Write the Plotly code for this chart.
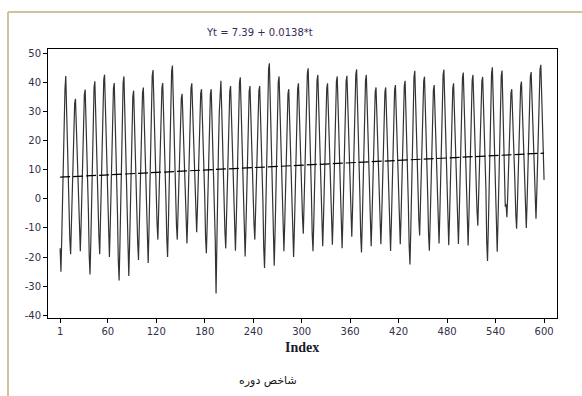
import plotly.graph_objects as go

# Monthly series values (50 cycles x 12 points)
values = [
    -17.0, -25.0, -13.6, 1.8, 16.6, 30.0, 37.5, 42.1, 31.4, 16.6, 3.2, -8.2,
    -13.7, -19.0, -9.9, 2.3, 14.0, 24.7, 32.7, 34.3, 25.8, 14.0, 3.4, -5.7,
    -12.5, -18.0, -8.6, 4.2, 16.4, 27.5, 35.8, 37.5, 28.6, 16.4, 5.3, -4.1,
    -19.4, -26.0, -14.7, 0.5, 15.1, 28.4, 38.3, 40.3, 29.7, 15.1, 1.8, -9.4,
    -12.8, -19.0, -8.5, 5.6, 19.2, 31.5, 40.8, 42.6, 32.7, 19.2, 6.9, -3.6,
    -14.0, -20.0, -9.9, 3.9, 17.0, 29.0, 37.9, 39.7, 30.1, 17.0, 5.1, -5.1,
    -21.0, -28.0, -16.1, 0.0, 15.4, 29.4, 39.9, 42.0, 30.8, 15.4, 1.4, -10.5,
    -20.1, -26.5, -15.7, -1.1, 12.9, 25.7, 35.2, 37.1, 26.9, 12.9, 0.2, -10.6,
    -15.1, -21.0, -10.9, 2.7, 15.7, 27.5, 36.4, 38.2, 28.7, 15.7, 3.9, -6.2,
    -15.4, -22.0, -10.7, 4.5, 19.0, 32.3, 42.2, 44.2, 33.6, 19.0, 5.8, -5.5,
    -8.6, -14.0, -4.9, 7.5, 19.3, 30.0, 38.1, 39.7, 31.1, 19.3, 8.6, -0.6,
    -13.4, -20.0, -8.8, 6.3, 20.7, 33.9, 43.7, 45.7, 35.2, 20.7, 7.6, -3.6,
    -9.0, -14.0, -5.5, 6.0, 17.0, 27.0, 34.5, 36.0, 28.0, 17.0, 7.0, -1.5,
    -9.8, -15.3, -6.0, 6.7, 18.7, 29.7, 38.0, 39.6, 30.8, 18.7, 7.8, -1.6,
    -6.6, -11.5, -3.2, 8.1, 19.0, 28.8, 36.1, 37.6, 29.7, 19.0, 9.1, 0.8,
    -13.1, -18.7, -9.1, 3.8, 16.2, 27.5, 35.9, 37.6, 28.6, 16.2, 4.9, -4.6,
    -14.0, -32.5, -9.7, 4.2, 17.5, 29.6, 38.7, 40.5, 30.8, 17.5, 5.4, -4.9,
    -11.4, -17.0, -7.5, 5.3, 17.5, 28.7, 37.0, 38.7, 29.8, 17.5, 6.4, -3.1,
    -11.9, -17.8, -7.7, 6.0, 19.1, 31.0, 39.9, 41.7, 32.2, 19.1, 7.2, -2.9,
    -14.0, -19.8, -9.9, 3.6, 16.5, 28.2, 36.9, 38.7, 29.3, 16.5, 4.8, -5.2,
    -8.7, -14.0, -5.0, 7.1, 18.7, 29.2, 37.1, 38.7, 30.3, 18.7, 8.1, -0.8,
    -16.7, -23.7, -11.8, 4.4, 19.8, 33.9, 44.4, 46.5, 35.3, 19.8, 5.8, -6.1,
    -16.5, -23.0, -12.0, 3.0, 17.3, 30.3, 40.1, 42.0, 31.6, 17.3, 4.3, -6.8,
    -12.4, -18.0, -8.5, 4.2, 16.5, 27.6, 35.9, 37.6, 28.7, 16.5, 5.4, -4.1,
    -14.0, -20.0, -9.9, 3.8, 17.0, 28.9, 37.8, 39.6, 30.1, 17.0, 5.0, -5.1,
    -6.3, -12.0, -2.3, 10.7, 23.2, 34.6, 43.1, 44.8, 35.7, 23.2, 11.9, 2.2,
    -12.0, -18.0, -7.7, 6.2, 19.5, 31.6, 40.7, 42.5, 32.8, 19.5, 7.4, -2.9,
    -10.7, -16.3, -6.8, 6.1, 18.4, 29.5, 37.9, 39.6, 30.7, 18.4, 7.2, -2.3,
    -10.0, -15.8, -6.0, 7.3, 20.0, 31.6, 40.3, 42.0, 32.8, 20.0, 8.5, -1.4,
    -11.1, -17.0, -6.9, 6.7, 19.7, 31.5, 40.4, 42.2, 32.7, 19.7, 7.9, -2.2,
    -7.3, -13.0, -3.2, 10.0, 22.6, 34.1, 42.7, 44.4, 35.2, 22.6, 11.1, 1.4,
    -12.3, -18.4, -8.0, 6.0, 19.4, 31.5, 40.7, 42.5, 32.8, 19.4, 7.2, -3.2,
    -10.9, -16.3, -7.0, 5.5, 17.5, 28.4, 36.6, 38.2, 29.5, 17.5, 6.6, -2.7,
    -10.2, -15.6, -6.5, 5.9, 17.8, 28.5, 36.6, 38.2, 29.6, 17.8, 7.0, -2.2,
    -12.2, -17.9, -8.2, 4.9, 17.4, 28.8, 37.3, 39.0, 29.9, 17.4, 6.0, -3.7,
    -10.0, -15.6, -6.1, 6.8, 19.2, 30.4, 38.8, 40.5, 31.5, 19.2, 8.0, -1.6,
    -15.9, -22.5, -11.2, 4.1, 18.7, 32.0, 41.9, 43.9, 33.3, 18.7, 5.4, -5.9,
    -7.2, -12.6, -3.3, 9.2, 21.2, 32.1, 40.3, 41.9, 33.2, 21.2, 10.3, 1.0,
    -12.1, -17.8, -8.1, 4.9, 17.4, 28.8, 37.3, 39.0, 29.9, 17.4, 6.0, -3.6,
    -9.3, -15.3, -5.2, 8.5, 21.7, 33.6, 42.5, 44.3, 34.8, 21.7, 9.7, -0.4,
    -10.4, -15.9, -6.5, 6.3, 18.5, 29.6, 37.9, 39.6, 30.7, 18.5, 7.4, -2.0,
    -9.6, -15.5, -5.5, 8.0, 21.0, 32.7, 41.5, 43.3, 33.9, 21.0, 9.2, -0.8,
    -10.2, -16.0, -6.1, 7.4, 20.3, 32.0, 40.7, 42.5, 33.1, 20.3, 8.6, -1.4,
    -4.1, -9.2, -0.5, 11.2, 22.4, 32.6, 40.3, 41.8, 33.6, 22.4, 12.2, 3.6,
    -14.7, -21.3, -10.0, 5.3, 19.9, 33.1, 43.1, 45.1, 34.5, 19.9, 6.6, -4.7,
    -12.0, -18.2, -7.6, 6.7, 20.4, 32.8, 42.1, 44.0, 34.1, 20.4, 7.9, -2.7,
    -1.9, -6.3, 1.2, 11.3, 20.9, 29.7, 36.3, 37.6, 30.6, 20.9, 12.1, 4.7,
    -5.3, -10.3, -1.7, 9.9, 21.0, 31.1, 38.7, 40.2, 32.1, 21.0, 10.9, 2.3,
    -4.7, -10.0, -0.9, 11.4, 23.2, 33.9, 41.9, 43.5, 34.9, 23.2, 12.5, 3.4,
    -1.5, -6.8, 2.2, 14.3, 25.9, 36.5, 44.4, 46.0, 37.6, 25.9, 15.4, 6.5,
]
index = list(range(1, len(values) + 1))

# Fitted trend from the title
intercept = 7.39
slope = 0.0138
trend = [intercept + slope * t for t in index]

x_ticks = [1, 60, 120, 180, 240, 300, 360, 420, 480, 540, 600]
y_ticks = [-40, -30, -20, -10, 0, 10, 20, 30, 40, 50]

title_text = "Yt = 7.39 + 0.0138*t"
x_title = "Index"
caption = "شاخص دوره"

fig = go.Figure()
fig.add_trace(go.Scatter(x=index, y=values, mode="lines",
                         line=dict(color="#333333", width=1.2), showlegend=False))
fig.add_trace(go.Scatter(x=index, y=trend, mode="lines",
                         line=dict(color="#000000", width=1.2, dash="10px,3px"), showlegend=False))

tick_font = dict(family="DejaVu Sans", size=10, color="#33304a")

fig.update_layout(
    width=582, height=396,
    margin=dict(l=48, r=25, t=49, b=78),
    paper_bgcolor="white", plot_bgcolor="white",
    xaxis=dict(range=[-14, 616], tickmode="array", tickvals=x_ticks,
               ticktext=[str(v) for v in x_ticks],
               showgrid=False, zeroline=False, showline=True, mirror=True,
               linecolor="black", linewidth=1, ticks="outside", ticklen=4,
               tickcolor="black", tickfont=tick_font),
    yaxis=dict(range=[-40.9, 51.4], tickmode="array", tickvals=y_ticks,
               ticktext=[str(v) for v in y_ticks],
               showgrid=False, zeroline=False, showline=True, mirror=True,
               linecolor="black", linewidth=1, ticks="outside", ticklen=4,
               tickcolor="black", tickfont=tick_font),
    annotations=[
        dict(text=title_text, xref="paper", yref="paper", x=0.4165, y=1.0595,
             showarrow=False, xanchor="center", yanchor="middle",
             font=dict(family="DejaVu Sans", size=10, color="#3a2a5a")),
        dict(text="<b>" + x_title + "</b>", xref="paper", yref="paper", x=0.499, y=-0.1115,
             showarrow=False, xanchor="center", yanchor="middle",
             font=dict(family="Liberation Serif", size=14, color="#1a1a2a")),
        dict(text=caption, xref="paper", yref="paper", x=0.432, y=-0.234,
             showarrow=False, xanchor="center", yanchor="middle",
             font=dict(family="DejaVu Sans", size=11, color="#111111")),
    ],
    shapes=[
        dict(type="line", xref="paper", yref="paper", x0=-0.0786, x1=1.049,
             y0=1.1375, y1=1.1375, line=dict(color="#cdc49c", width=2)),
        dict(type="line", xref="paper", yref="paper", x0=-0.0786, x1=-0.0786,
             y0=1.1375, y1=-0.3, line=dict(color="#cdc49c", width=2)),
    ],
)

fig.write_html("out.html")
